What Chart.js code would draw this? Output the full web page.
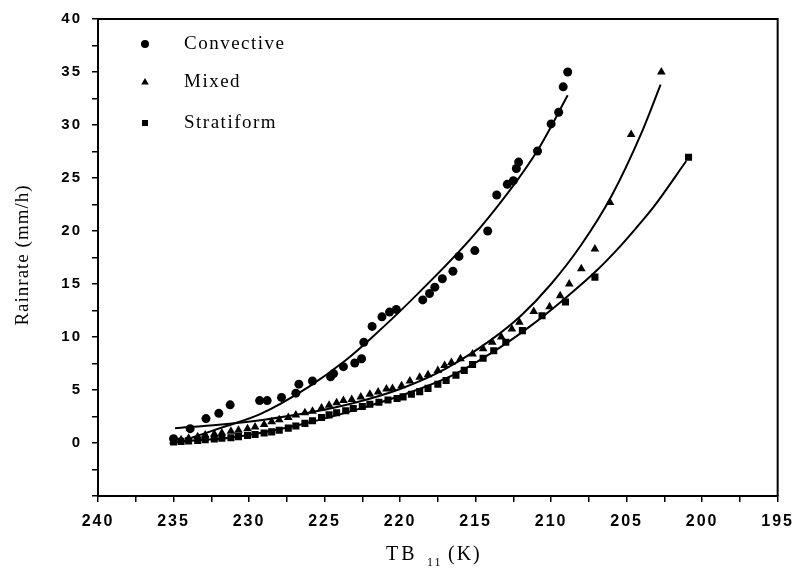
<!DOCTYPE html>
<html>
<head>
<meta charset="utf-8">
<script src="https://cdn.jsdelivr.net/npm/chart.js@4.4.1/dist/chart.umd.min.js"></script>
<style>
  html, body { margin: 0; padding: 0; background: #fff; }
  #wrap { width: 801px; height: 568px; }
</style>
</head>
<body>
<div id="wrap"><canvas id="rainChart" width="801" height="568"></canvas></div>
<script>
// Convective (circles)
const convTB = [235.0, 233.9, 232.85, 232.0, 231.25, 229.3, 228.8, 227.85, 226.9, 226.7, 225.8, 224.6, 224.4, 223.75,
  223.0, 222.55, 222.4, 221.85, 221.2, 220.7, 220.25, 218.5, 218.05, 217.7, 217.2, 216.5, 216.1, 215.05, 214.2,
  213.6, 212.9, 212.5, 212.3, 212.15, 210.9, 210.0, 209.5, 209.2, 208.9];
const convRain = [0.4, 1.35, 2.3, 2.8, 3.6, 4.0, 4.0, 4.3, 4.7, 5.55, 5.85, 6.25, 6.55, 7.2,
  7.55, 7.95, 9.5, 11.0, 11.9, 12.35, 12.6, 13.5, 14.1, 14.7, 15.5, 16.2, 17.6, 18.15, 20.0,
  23.4, 24.4, 24.75, 25.9, 26.5, 27.55, 30.1, 31.2, 33.6, 35.0];

// Mixed (triangles)
const mixedTB = [235.0, 234.5, 234.0, 233.4, 232.9, 232.3, 231.8, 231.2, 230.7, 230.1, 229.6, 229.0, 228.5, 228.0,
  227.4, 226.9, 226.3, 225.8, 225.2, 224.7, 224.2, 223.75, 223.2, 222.6, 222.0, 221.45, 220.9, 220.5, 219.9,
  219.35, 218.7, 218.15, 217.5, 217.05, 216.6, 216.0, 215.2, 214.5, 213.9, 213.3, 212.6, 212.1, 211.15, 210.1,
  209.4, 208.8, 208.0, 207.1, 206.1, 204.7, 202.7];
const mixedRain = [0.2, 0.3, 0.45, 0.6, 0.75, 0.85, 0.95, 1.1, 1.2, 1.35, 1.5, 1.75, 2.0, 2.2,
  2.4, 2.65, 2.85, 3.0, 3.3, 3.55, 3.8, 4.0, 4.1, 4.35, 4.6, 4.8, 5.1, 5.15, 5.4,
  5.85, 6.2, 6.45, 6.85, 7.3, 7.6, 7.95, 8.4, 8.9, 9.5, 10.0, 10.75, 11.4, 12.4, 12.85,
  13.9, 15.0, 16.45, 18.3, 22.7, 29.1, 35.0];

// Stratiform (squares)
const stratTB = [235.0, 234.5, 234.0, 233.4, 232.9, 232.3, 231.8, 231.2, 230.7, 230.1, 229.6, 229.0, 228.5, 228.0,
  227.4, 226.9, 226.3, 225.8, 225.2, 224.7, 224.2, 223.6, 223.1, 222.5, 222.0, 221.4, 220.8, 220.2, 219.8,
  219.25, 218.7, 218.15, 217.5, 216.95, 216.3, 215.75, 215.2, 214.5, 213.8, 213.0, 211.9, 210.6, 209.05,
  207.1, 200.9];
const stratRain = [0.1, 0.15, 0.2, 0.25, 0.3, 0.38, 0.45, 0.5, 0.6, 0.7, 0.8, 0.95, 1.05, 1.2,
  1.4, 1.6, 1.85, 2.1, 2.4, 2.65, 2.85, 3.05, 3.25, 3.45, 3.65, 3.85, 4.05, 4.2, 4.35,
  4.6, 4.85, 5.15, 5.55, 5.9, 6.4, 6.85, 7.4, 8.0, 8.7, 9.5, 10.6, 12.0, 13.3,
  15.65, 26.95];

// fitted curves, points
const convFitTB = [233.8, 231.5, 229.3, 226.05, 223.6, 221.9, 218.6, 214.76, 210.9, 208.9];
const convFitRain = [0.5, 1.6, 2.7, 5.3, 7.8, 9.9, 14.4, 20.2, 27.6, 32.8];
const mixedFitTB = [234.9, 232, 229, 226, 223, 220, 217, 214, 212, 210, 208, 206, 204, 202.75];
const mixedFitRain = [1.4, 1.73, 2.2, 2.87, 3.8, 5.1, 7.0, 9.7, 12.0, 15.0, 18.7, 23.3, 29.3, 33.8];
const stratFitTB = [235.0, 231.0, 227.0, 223.0, 219.7, 216.5, 213.4, 211.4, 209.2, 207.0, 205.4, 204.3, 203.25, 201.05];
const stratFitRain = [0.1, 0.55, 1.6, 3.1, 4.6, 6.4, 9.0, 11.0, 13.5, 16.25, 18.6, 20.4, 22.2, 26.6];

const xLabelValues = [240, 235, 230, 225, 220, 215, 210, 205, 200, 195];
const yLabelValues = [0, 5, 10, 15, 20, 25, 30, 35, 40];
const seriesNames = ['Convective', 'Mixed', 'Stratiform'];

const pts = (xs, ys) => xs.map((x, i) => ({ x: x, y: ys[i] }));

function markerSet(label, xs, ys, style, r) {
  return {
    label: label, data: pts(xs, ys), pointStyle: style, pointRadius: r, pointHoverRadius: r,
    backgroundColor: '#000', borderColor: '#000', borderWidth: 0, showLine: false
  };
}
function fitSet(xs, ys) {
  return {
    label: '', data: pts(xs, ys), showLine: true, pointRadius: 0, borderColor: '#000',
    borderWidth: 2, cubicInterpolationMode: 'monotone', fill: false
  };
}

function drawMarker(ctx, style, x, y, r) {
  ctx.beginPath();
  if (style === 'circle') {
    ctx.arc(x, y, r, 0, Math.PI * 2);
  } else if (style === 'triangle') {
    ctx.moveTo(x, y - r);
    ctx.lineTo(x + r * 0.95, y + r * 0.6);
    ctx.lineTo(x - r * 0.95, y + r * 0.6);
    ctx.closePath();
  } else {
    ctx.rect(x - r * 0.75, y - r * 0.75, r * 1.5, r * 1.5);
  }
  ctx.fill();
}

const serif = '"Liberation Serif", "Times New Roman", serif';

const decor = {
  id: 'decor',
  beforeDraw(chart) {
    chart.ctx.letterSpacing = '2px';
  },
  afterDraw(chart) {
    const ctx = chart.ctx;
    const a = chart.chartArea;
    ctx.save();
    ctx.strokeStyle = '#000';
    ctx.lineWidth = 2;
    ctx.beginPath();
    ctx.moveTo(a.left, a.top);
    ctx.lineTo(a.right, a.top);
    ctx.lineTo(a.right, a.bottom);
    ctx.stroke();

    // legend
    ctx.fillStyle = '#000';
    const styles = ['circle', 'triangle', 'rect'];
    const rows = [44, 82, 123];
    ctx.font = '19px ' + serif;
    ctx.letterSpacing = '1.5px';
    ctx.textBaseline = 'middle';
    ctx.textAlign = 'left';
    seriesNames.forEach((n, i) => {
      drawMarker(ctx, styles[i], 145, rows[i], 4);
      ctx.fillText(n, 184, rows[i]);
    });

    // y title
    ctx.letterSpacing = '1px';
    ctx.save();
    ctx.translate(23, 255);
    ctx.rotate(-Math.PI / 2);
    ctx.textAlign = 'center';
    ctx.font = '19px ' + serif;
    ctx.fillText('Rainrate (mm/h)', 0, 0);
    ctx.restore();

    // x title with subscript
    ctx.textBaseline = 'alphabetic';
    ctx.textAlign = 'left';
    ctx.letterSpacing = '3px';
    ctx.font = '20px ' + serif;
    ctx.fillText('TB', 386, 560);
    ctx.font = '12px ' + serif;
    ctx.letterSpacing = '2px';
    ctx.fillText('11', 427, 566);
    ctx.font = '20px ' + serif;
    ctx.letterSpacing = '2px';
    ctx.fillText('(K)', 448, 560);
    ctx.restore();
  }
};

const ctx = document.getElementById('rainChart').getContext('2d');
new Chart(ctx, {
  type: 'scatter',
  data: {
    datasets: [
      markerSet(seriesNames[0], convTB, convRain, 'circle', 4.5),
      markerSet(seriesNames[1], mixedTB, mixedRain, 'triangle', 5),
      markerSet(seriesNames[2], stratTB, stratRain, 'rect', 5),
      fitSet(convFitTB, convFitRain),
      fitSet(mixedFitTB, mixedFitRain),
      fitSet(stratFitTB, stratFitRain)
    ]
  },
  options: {
    responsive: false,
    animation: false,
    layout: { padding: { left: 0, top: 17, right: 19, bottom: 0 } },
    plugins: {
      legend: { display: false },
      tooltip: { enabled: false }
    },
    scales: {
      x: {
        type: 'linear',
        reverse: true,
        min: 195,
        max: 240,
        afterFit: s => { s.height = 72; },
        ticks: {
          stepSize: 2.5,
          autoSkip: false,
          maxRotation: 0,
          padding: 10,
          color: '#000',
          font: { family: '"Liberation Sans", Arial, sans-serif', size: 16, weight: 'bold' },
          callback: v => xLabelValues.includes(v) ? String(v) : ''
        },
        grid: { drawOnChartArea: false, drawTicks: true, tickLength: 6, color: '#000', lineWidth: 1.5 },
        border: { display: true, color: '#000', width: 2 }
      },
      y: {
        type: 'linear',
        min: -5,
        max: 40,
        afterFit: s => { s.width = 98; },
        ticks: {
          stepSize: 2.5,
          autoSkip: false,
          padding: 10,
          color: '#000',
          font: { family: '"Liberation Sans", Arial, sans-serif', size: 15, weight: 'bold' },
          callback: v => yLabelValues.includes(v) ? String(v) : ''
        },
        grid: { drawOnChartArea: false, drawTicks: true, tickLength: 6, color: '#000', lineWidth: 1.5 },
        border: { display: true, color: '#000', width: 2 }
      }
    }
  },
  plugins: [decor]
});
</script>
</body>
</html>
